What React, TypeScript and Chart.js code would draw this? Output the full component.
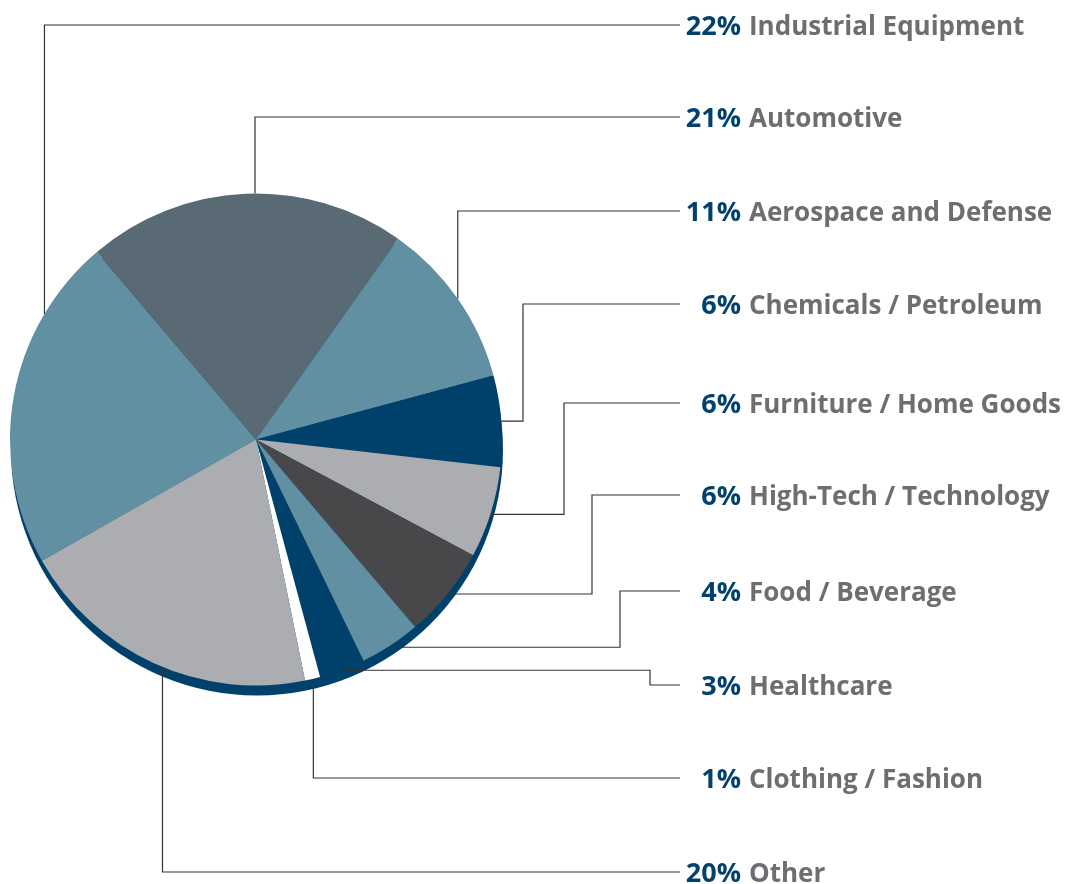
import React, { useEffect, useRef } from "react";
import { Chart, registerables } from "chart.js";

Chart.register(...registerables);

// ---- data ----
const categories = [
  "Industrial Equipment",
  "Automotive",
  "Aerospace and Defense",
  "Chemicals / Petroleum",
  "Furniture / Home Goods",
  "High-Tech / Technology",
  "Food / Beverage",
  "Healthcare",
  "Clothing / Fashion",
  "Other",
];
const shares = [22, 21, 11, 6, 6, 6, 4, 3, 1, 20];
const percentLabels = ["22%", "21%", "11%", "6%", "6%", "6%", "4%", "3%", "1%", "20%"];

// ---- styles / layout ----
const sliceColors = [
  "#6190a3",
  "#5a6a75",
  "#6190a3",
  "#00416b",
  "#acadb0",
  "#48484a",
  "#6190a3",
  "#00416b",
  "#ffffff",
  "#acadb0",
];
const shadowColor = "#00416b";
const rowLineY = [25, 117, 211, 304, 403, 495, 591, 685, 778, 872];
const leaderAnchor = [0.76, 0.53, 0.5, 0.5, 0.52, 0.5, 0.55, 0.52, 0.45, 0.47];
const leaderElbowX: (number | null)[] = [null, null, null, 523, 564, 592, 620, 650, null, null];
const lineEndX = 680;
const percentRightX = 741;
const nameLeftX = 749;
const PCT_FONT = "bold 27px 'Open Sans', sans-serif";
const NAME_FONT = "bold 26px 'Open Sans', sans-serif";

const leaderPlugin = {
  id: "leaders",
  beforeDatasetsDraw(chart: any) {
    const meta = chart.getDatasetMeta(0);
    const first = meta.data[0];
    if (!first) return;
    const { x: cx, y: cy, outerRadius: r } = first.getProps(["x", "y", "outerRadius"], true);
    const ctx = chart.ctx;
    ctx.save();
    // drop shadow disc
    ctx.fillStyle = shadowColor;
    ctx.beginPath();
    ctx.arc(cx + 1, cy + 10, r, 0, Math.PI * 2);
    ctx.fill();
    // leader lines
    ctx.strokeStyle = "#333333";
    ctx.lineWidth = 1.2;
    meta.data.forEach((arc: any, i: number) => {
      const p = arc.getProps(["startAngle", "endAngle"], true);
      const a = p.startAngle + leaderAnchor[i] * (p.endAngle - p.startAngle);
      const ax = cx + r * Math.cos(a);
      const ay = cy + r * Math.sin(a);
      const ry = rowLineY[i];
      ctx.beginPath();
      ctx.moveTo(ax, ay);
      const ex = leaderElbowX[i];
      if (ex == null) {
        ctx.lineTo(ax, ry);
      } else {
        ctx.lineTo(ex, ay);
        ctx.lineTo(ex, ry);
      }
      ctx.lineTo(lineEndX, ry);
      ctx.stroke();
    });
    ctx.restore();
  },
  afterDatasetsDraw(chart: any) {
    const ctx = chart.ctx;
    ctx.save();
    ctx.textBaseline = "alphabetic";
    categories.forEach((name, i) => {
      const by = rowLineY[i] + 9.5;
      ctx.font = PCT_FONT;
      ctx.fillStyle = "#00426d";
      ctx.textAlign = "right";
      ctx.fillText(percentLabels[i], percentRightX, by);
      ctx.font = NAME_FONT;
      ctx.fillStyle = "#6d6e71";
      ctx.textAlign = "left";
      ctx.fillText(name, nameLeftX, by);
    });
    ctx.restore();
  },
};

export default function App() {
  const ref = useRef<HTMLCanvasElement | null>(null);
  useEffect(() => {
    document.body.style.margin = "0";
    const canvas = ref.current;
    if (!canvas) return;
    const chart = new Chart(canvas, {
      type: "pie",
      data: {
        labels: categories,
        datasets: [
          {
            data: shares,
            backgroundColor: sliceColors,
            borderWidth: 0,
          },
        ],
      },
      options: {
        responsive: false,
        animation: false,
        rotation: -119.5,
        layout: { padding: { left: 10, top: 193, right: 567, bottom: 198 } },
        plugins: { legend: { display: false }, tooltip: { enabled: false } },
      },
      plugins: [leaderPlugin],
    });
    return () => chart.destroy();
  }, []);
  return (
    <div style={{ width: 1069, height: 884, background: "#fff" }}>
      <canvas ref={ref} width={1069} height={884} style={{ display: "block" }} />
    </div>
  );
}
